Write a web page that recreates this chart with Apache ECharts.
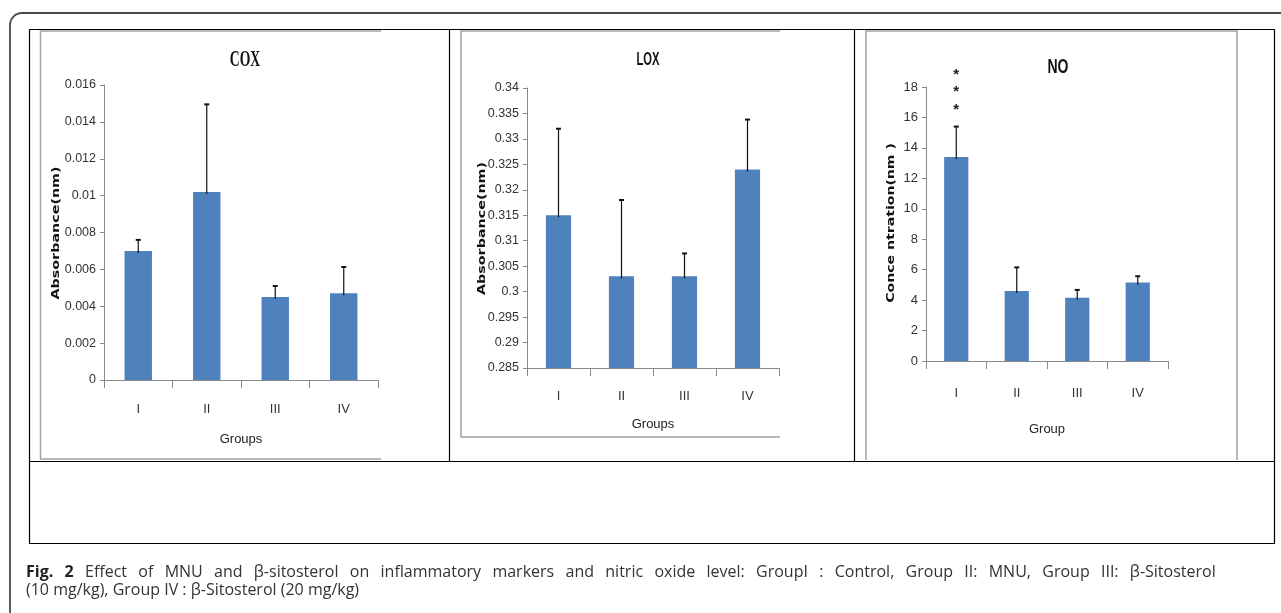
<!DOCTYPE html>
<html><head><meta charset="utf-8">
<script src="https://cdn.jsdelivr.net/npm/echarts@6/dist/echarts.min.js"></script>
<style>html,body{margin:0;padding:0;background:#fff}#c{width:1281px;height:613px}</style>
</head><body><div id="c"></div>
<script>
// ---------- data ----------
const categories = ['I', 'II', 'III', 'IV'];
const coxMean  = [0.0070, 0.0102, 0.0045, 0.0047];
const coxUpper = [0.0076, 0.01495, 0.0051, 0.00613];
const loxMean  = [0.315, 0.303, 0.303, 0.324];
const loxUpper = [0.332, 0.318, 0.3075, 0.3338];
const noMean   = [13.4, 4.6, 4.15, 5.15];
const noUpper  = [15.4, 6.15, 4.67, 5.57];
const noMarks  = ['*\n*\n*', '', '', ''];
const coxTicks = [0, 0.016, 0.002];   // min, max, interval
const loxTicks = [0.285, 0.34, 0.005];
const noTicks  = [0, 18, 2];
const titles   = ['COX', 'LOX', 'NO'];
const yNames   = ['Absorbance(nm)', 'Absorbance(nm)', 'Conce ntration(nm )'];
const xNames   = ['Groups', 'Groups', 'Group'];
const captionLine1 = 'Fig. 2 Effect of MNU and β-sitosterol on inflammatory markers and nitric oxide level: GroupI : Control, Group II: MNU, Group III: β-Sitosterol';
const captionLine2 = '(10 mg/kg), Group IV : β-Sitosterol (20 mg/kg)';

const SANS = "'Liberation Sans', Arial, sans-serif";
const AXIS_GRAY = '#8a8a8a';
const BAR_BLUE = '#4f81bd';

const grids = [
  { left: 104, top: 85, width: 274, height: 295 },
  { left: 527, top: 88, width: 252, height: 280 },
  { left: 926, top: 87, width: 242, height: 274 }
];
const xLabelMargin = [23, 22, 26];
const xNameGap = [53, 50, 62];
const yLabelSize = [12.5, 12.5, 13];
const ticks = [coxTicks, loxTicks, noTicks];

function fmt(v) { return String(+(+v).toFixed(4)); }

const xAxis = grids.map((g, i) => ({
  type: 'category', gridIndex: i, data: categories,
  name: xNames[i], nameLocation: 'middle', nameGap: xNameGap[i],
  nameTextStyle: { fontFamily: SANS, fontSize: 13, color: '#222' },
  axisLine: { lineStyle: { color: AXIS_GRAY, width: 1 } },
  axisTick: { show: true, length: 8, lineStyle: { color: AXIS_GRAY } },
  axisLabel: { fontFamily: SANS, fontSize: 13, color: '#333', margin: xLabelMargin[i] },
  splitLine: { show: false }
}));

const yAxis = grids.map((g, i) => ({
  type: 'value', gridIndex: i,
  min: ticks[i][0], max: ticks[i][1], interval: ticks[i][2],
  axisLine: { show: true, lineStyle: { color: AXIS_GRAY, width: 1 } },
  axisTick: { show: true, length: 4, lineStyle: { color: AXIS_GRAY } },
  axisLabel: { fontFamily: SANS, fontSize: yLabelSize[i], color: '#333', margin: 8, formatter: fmt },
  splitLine: { show: false }
}));

function barSeries(i, values) {
  return {
    type: 'bar', xAxisIndex: i, yAxisIndex: i, data: values,
    barWidth: '40%', itemStyle: { color: BAR_BLUE }, z: 2
  };
}
function errSeries(i, mean, upper, marks) {
  return {
    type: 'custom', xAxisIndex: i, yAxisIndex: i, z: 5,
    data: categories.map((c, k) => [k, mean[k], upper[k]]),
    encode: { x: 0, y: [1, 2] },
    renderItem(params, api) {
      const k = api.value(0);
      const p0 = api.coord([k, api.value(1)]);
      const p1 = api.coord([k, api.value(2)]);
      const cap = 2.5;
      const children = [
        { type: 'line', shape: { x1: p0[0], y1: p0[1] + 2, x2: p1[0], y2: p1[1] }, style: { stroke: '#111', lineWidth: 1.2 } },
        { type: 'line', shape: { x1: p1[0] - cap, y1: p1[1], x2: p1[0] + cap, y2: p1[1] }, style: { stroke: '#111', lineWidth: 2 } }
      ];
      if (marks && marks[params.dataIndex]) {
        children.push({
          type: 'text',
          style: { text: marks[params.dataIndex], x: p1[0], y: p1[1] - 8, align: 'center', verticalAlign: 'bottom',
            fontSize: 15, fontWeight: 'bold', lineHeight: 17.5, fontFamily: SANS, fill: '#222' }
        });
      }
      return { type: 'group', children };
    }
  };
}

const series = [
  barSeries(0, coxMean), errSeries(0, coxMean, coxUpper),
  barSeries(1, loxMean), errSeries(1, loxMean, loxUpper),
  barSeries(2, noMean), errSeries(2, noMean, noUpper, noMarks)
];

// justified first caption line: stretched word gaps
const capWords = captionLine1.split(' ');
const capText1 = capWords.map((w, i) => (i < 2 ? '{b|' + w + '}' : w)).join('{w| }');

const FRAME = '#a3a3a3';
const YNAME_FONT = "'DejaVu Sans', sans-serif";
const graphic = [
  // outer rounded frame
  { type: 'rect', shape: { x: 10, y: 13, width: 1320, height: 700, r: 12 }, style: { fill: 'none', stroke: '#4a4a4a', lineWidth: 1.8 }, silent: true },
  // table
  { type: 'rect', shape: { x: 29.5, y: 29.5, width: 1245, height: 514 }, style: { fill: 'none', stroke: '#000', lineWidth: 1.2 }, silent: true },
  { type: 'line', shape: { x1: 449.5, y1: 29.5, x2: 449.5, y2: 461.5 }, style: { stroke: '#000', lineWidth: 1.2 } },
  { type: 'line', shape: { x1: 854.5, y1: 29.5, x2: 854.5, y2: 461.5 }, style: { stroke: '#000', lineWidth: 1.2 } },
  { type: 'line', shape: { x1: 29.5, y1: 461.5, x2: 1274.5, y2: 461.5 }, style: { stroke: '#000', lineWidth: 1.2 } },
  // inner chart frames
  { type: 'polyline', shape: { points: [[381, 31], [40.5, 31], [40.5, 459], [381, 459]] }, style: { fill: 'none', stroke: FRAME, lineWidth: 1.5 } },
  { type: 'polyline', shape: { points: [[780, 31], [461, 31], [461, 437], [780, 437]] }, style: { fill: 'none', stroke: FRAME, lineWidth: 1.5 } },
  { type: 'polyline', shape: { points: [[866, 460], [866, 31], [1237, 31], [1237, 460]] }, style: { fill: 'none', stroke: FRAME, lineWidth: 1.5 } },
  // titles
  { type: 'text', x: 245, y: 60, scaleX: 0.57, style: { text: titles[0], align: 'center', verticalAlign: 'middle', fontFamily: "'Liberation Serif', serif", fontWeight: 'bold', fontSize: 24, fill: '#111' } },
  { type: 'text', x: 648, y: 60, scaleX: 0.62, style: { text: titles[1], align: 'center', verticalAlign: 'middle', fontFamily: SANS, fontWeight: 'bold', fontSize: 18, fill: '#111' } },
  { type: 'text', x: 1058, y: 67, scaleX: 0.7, style: { text: titles[2], align: 'center', verticalAlign: 'middle', fontFamily: SANS, fontWeight: 'bold', fontSize: 20, fill: '#111' } },
  // y axis names (rotated)
  { type: 'text', x: 56.5, y: 233, rotation: Math.PI / 2, scaleX: 1.3, style: { text: yNames[0], align: 'center', verticalAlign: 'middle', fontFamily: YNAME_FONT, fontWeight: 'bold', fontSize: 11, fill: '#111' } },
  { type: 'text', x: 482, y: 228.5, rotation: Math.PI / 2, scaleX: 1.3, style: { text: yNames[1], align: 'center', verticalAlign: 'middle', fontFamily: YNAME_FONT, fontWeight: 'bold', fontSize: 11, fill: '#111' } },
  { type: 'text', x: 891, y: 223, rotation: Math.PI / 2, scaleX: 1.28, style: { text: yNames[2], align: 'center', verticalAlign: 'middle', fontFamily: YNAME_FONT, fontWeight: 'bold', fontSize: 11, fill: '#111' } },
  // caption
  { type: 'text', x: 26, y: 572, style: { text: capText1, verticalAlign: 'middle', fontFamily: "'Open Sans', sans-serif", fontSize: 16, fill: '#333',
      rich: { b: { fontWeight: 'bold', fontFamily: "'Open Sans', sans-serif", fontSize: 16, fill: '#222' },
              w: { width: 11.3, fontFamily: "'Open Sans', sans-serif", fontSize: 16 } } } },
  { type: 'text', x: 26, y: 590, style: { text: captionLine2, verticalAlign: 'middle', fontFamily: "'Open Sans', sans-serif", fontSize: 16, fill: '#333' } }
];

const chart = echarts.init(document.getElementById('c'), null, { renderer: 'canvas' });
chart.setOption({
  animation: false,
  backgroundColor: '#fff',
  grid: grids,
  xAxis, yAxis, series, graphic
});
</script></body></html>
